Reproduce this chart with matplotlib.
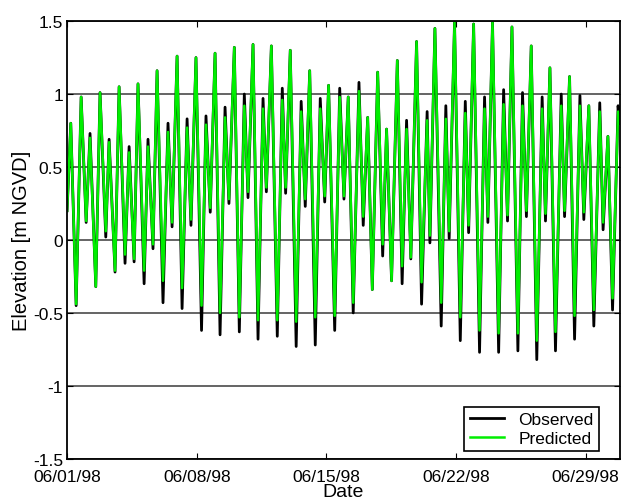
import numpy as np
import matplotlib
matplotlib.use("Agg")
import matplotlib.pyplot as plt
import matplotlib.dates as mdates

plt.rcParams['font.family'] = ['Liberation Sans', 'DejaVu Sans']
plt.rcParams['axes.unicode_minus'] = False

# time of each high / low water, days after 06/01/98 00:00
t_days = [0.00, 0.20, 0.49, 0.76, 1.03, 1.24, 1.55, 1.78, 2.09, 2.27,
          2.59, 2.81, 3.13, 3.35, 3.62, 3.83, 4.16, 4.37, 4.64, 4.86,
          5.18, 5.45, 5.67, 5.94, 6.21, 6.48, 6.69, 6.96, 7.26, 7.50,
          7.73, 7.99, 8.26, 8.53, 8.74, 9.03, 9.30, 9.57, 9.77, 10.04,
          10.31, 10.58, 10.76, 11.03, 11.35, 11.62, 11.80, 12.05, 12.37, 12.64,
          12.86, 13.10, 13.40, 13.67, 13.91, 14.12, 14.45, 14.72, 14.95, 15.18,
          15.45, 15.76, 15.99, 16.23, 16.48, 16.77, 17.04, 17.25, 17.52, 17.83,
          18.09, 18.33, 18.56, 18.87, 19.14, 19.44, 19.59, 19.86, 20.20, 20.45,
          20.63, 20.92, 21.23, 21.50, 21.68, 21.95, 22.27, 22.54, 22.72, 22.97,
          23.30, 23.57, 23.78, 24.02, 24.34, 24.59, 24.80, 25.06, 25.36, 25.65,
          25.83, 26.07, 26.37, 26.68, 26.86, 27.13, 27.40, 27.69, 27.90, 28.17,
          28.44, 28.76, 28.94, 29.20, 29.45, 29.75, 29.84]

# observed elevation [m NGVD]
observed = [0.20, 0.80, -0.45, 0.98, 0.12, 0.73, -0.32, 1.01, 0.02, 0.69,
            -0.22, 1.05, -0.16, 0.64, -0.15, 1.07, -0.30, 0.69, -0.06, 1.16,
            -0.43, 0.80, 0.09, 1.26, -0.47, 0.83, 0.10, 1.25, -0.62, 0.85,
            0.19, 1.28, -0.65, 0.91, 0.25, 1.32, -0.63, 1.00, 0.29, 1.34,
            -0.68, 0.97, 0.33, 1.33, -0.66, 1.04, 0.32, 1.30, -0.73, 0.95,
            0.23, 1.16, -0.72, 0.97, 0.26, 1.06, -0.62, 1.04, 0.28, 0.98,
            -0.50, 1.08, 0.10, 0.84, -0.34, 1.15, -0.11, 0.76, -0.28, 1.23,
            -0.30, 0.82, -0.13, 1.36, -0.44, 0.88, -0.02, 1.45, -0.59, 0.92,
            0.01, 1.49, -0.69, 0.95, 0.05, 1.48, -0.77, 0.98, 0.12, 1.49,
            -0.77, 1.03, 0.13, 1.46, -0.76, 1.01, 0.16, 1.33, -0.82, 0.98,
            0.13, 1.18, -0.76, 1.00, 0.16, 1.12, -0.68, 0.99, 0.14, 0.92,
            -0.59, 0.94, 0.07, 0.71, -0.48, 0.92, 0.80]

# predicted elevation [m NGVD]
predicted = [0.20, 0.80, -0.44, 0.98, 0.13, 0.70, -0.32, 1.01, 0.06, 0.67,
             -0.21, 1.05, -0.10, 0.60, -0.13, 1.07, -0.21, 0.64, -0.03, 1.16,
             -0.28, 0.74, 0.12, 1.26, -0.33, 0.77, 0.14, 1.25, -0.45, 0.79,
             0.22, 1.28, -0.50, 0.84, 0.28, 1.32, -0.53, 0.92, 0.33, 1.34,
             -0.55, 0.90, 0.36, 1.33, -0.55, 0.96, 0.36, 1.30, -0.56, 0.88,
             0.28, 1.16, -0.53, 0.90, 0.30, 1.06, -0.52, 0.98, 0.30, 0.98,
             -0.43, 1.02, 0.16, 0.84, -0.34, 1.15, -0.03, 0.76, -0.28, 1.23,
             -0.18, 0.76, -0.12, 1.36, -0.29, 0.82, 0.03, 1.45, -0.43, 0.83,
             0.06, 1.49, -0.53, 0.87, 0.10, 1.48, -0.62, 0.90, 0.16, 1.49,
             -0.64, 0.93, 0.17, 1.46, -0.64, 0.92, 0.20, 1.33, -0.69, 0.90,
             0.18, 1.18, -0.63, 0.92, 0.20, 1.12, -0.52, 0.92, 0.19, 0.92,
             -0.48, 0.88, 0.12, 0.71, -0.40, 0.88, 0.80]

start = np.datetime64('1998-06-01T00:00')
times = start + (np.array(t_days) * 24 * 60).astype('timedelta64[m]')

fig = plt.figure(figsize=(6.21, 5.02), dpi=100)
ax = fig.add_axes([0.108, 0.084, 0.89, 0.872])

ax.plot(times, observed, color='black', lw=2.0, label='Observed',
        solid_joinstyle='round')
ax.plot(times, predicted, color='#00ee00', lw=1.8, label='Predicted',
        solid_joinstyle='round')

ax.set_ylim(-1.5, 1.5)
ax.set_xlim(start, start + np.timedelta64(int(29.84 * 24 * 60), 'm'))
ax.set_yticks([-1.5, -1, -0.5, 0, 0.5, 1, 1.5])
ax.yaxis.set_major_formatter(plt.FormatStrFormatter('%g'))
ax.xaxis.set_major_locator(mdates.DayLocator(bymonthday=[1, 8, 15, 22, 29]))
ax.xaxis.set_major_formatter(mdates.DateFormatter('%m/%d/%y'))

ax.yaxis.grid(True, color='#4a4a4a', lw=1.2)
ax.tick_params(direction='in', length=4, top=True, right=True,
               labelsize=12.5, pad=3)
ax.tick_params(axis='x', pad=7.5)
for s in ax.spines.values():
    s.set_linewidth(1.3)

ax.set_xlabel('Date', fontsize=14, labelpad=-1)
ax.set_ylabel('Elevation [m NGVD]', fontsize=14.5, labelpad=1)

leg = ax.legend(loc='lower right', bbox_to_anchor=(0.962, 0.018),
                borderaxespad=0, fancybox=False, fontsize=12.5,
                handlelength=2.0, edgecolor='black', framealpha=1,
                borderpad=0.3, labelspacing=0.2)
leg.get_frame().set_linewidth(1.2)

fig.savefig('out.png', dpi=100)
